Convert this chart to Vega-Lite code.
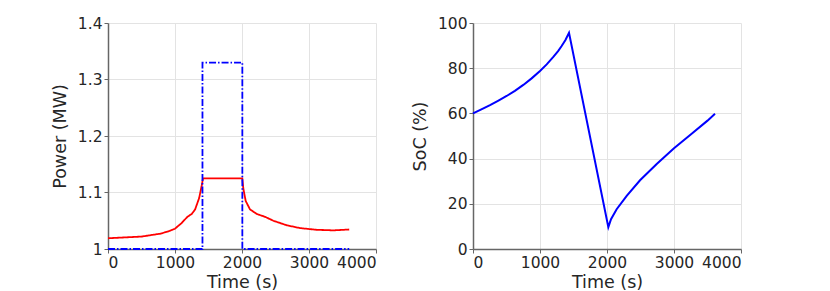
{
  "$schema": "https://vega.github.io/schema/vega-lite/v6.json",
  "background": "white",
  "padding": {"left": 51, "top": 16, "right": 5, "bottom": 0},
  "spacing": 34,
  "config": {
    "view": {"stroke": null},
    "font": "DejaVu Sans",
    "axis": {
      "labelFont": "DejaVu Sans",
      "labelFontSize": 15.5,
      "labelColor": "#262626",
      "labelOverlap": false,
      "titleFont": "DejaVu Sans",
      "titleFontSize": 17.5,
      "titleFontWeight": "normal",
      "titleColor": "#262626",
      "domainColor": "#666666",
      "domainWidth": 1.5,
      "tickColor": "#666666",
      "tickSize": 4,
      "tickWidth": 1,
      "labelPadding": 2,
      "gridColor": "#e3e3e3",
      "gridWidth": 1
    }
  },
  "datasets": {
    "power": [
      {"s": "red", "i": 1, "t": 0, "p": 1.019},
      {"s": "red", "i": 2, "t": 250, "p": 1.0205},
      {"s": "red", "i": 3, "t": 500, "p": 1.022},
      {"s": "red", "i": 4, "t": 775, "p": 1.027},
      {"s": "red", "i": 5, "t": 900, "p": 1.031},
      {"s": "red", "i": 6, "t": 1000, "p": 1.036},
      {"s": "red", "i": 7, "t": 1100, "p": 1.046},
      {"s": "red", "i": 8, "t": 1185, "p": 1.057},
      {"s": "red", "i": 9, "t": 1250, "p": 1.062},
      {"s": "red", "i": 10, "t": 1300, "p": 1.070},
      {"s": "red", "i": 11, "t": 1360, "p": 1.090},
      {"s": "red", "i": 12, "t": 1400, "p": 1.113},
      {"s": "red", "i": 13, "t": 1418, "p": 1.125},
      {"s": "red", "i": 14, "t": 2005, "p": 1.125},
      {"s": "red", "i": 15, "t": 2020, "p": 1.107},
      {"s": "red", "i": 16, "t": 2055, "p": 1.085},
      {"s": "red", "i": 17, "t": 2120, "p": 1.070},
      {"s": "red", "i": 18, "t": 2220, "p": 1.062},
      {"s": "red", "i": 19, "t": 2343, "p": 1.057},
      {"s": "red", "i": 20, "t": 2468, "p": 1.050},
      {"s": "red", "i": 21, "t": 2667, "p": 1.042},
      {"s": "red", "i": 22, "t": 2866, "p": 1.037},
      {"s": "red", "i": 23, "t": 3114, "p": 1.034},
      {"s": "red", "i": 24, "t": 3363, "p": 1.033},
      {"s": "red", "i": 25, "t": 3600, "p": 1.0345},
      {"s": "blue", "i": 1, "t": 0, "p": 1.0},
      {"s": "blue", "i": 2, "t": 1410, "p": 1.0},
      {"s": "blue", "i": 3, "t": 1410, "p": 1.33},
      {"s": "blue", "i": 4, "t": 2005, "p": 1.33},
      {"s": "blue", "i": 5, "t": 2005, "p": 1.0},
      {"s": "blue", "i": 6, "t": 3600, "p": 1.0}
    ],
    "soc": [
      {"t": 0, "soc": 60.0},
      {"t": 125, "soc": 61.8},
      {"t": 254, "soc": 63.7},
      {"t": 380, "soc": 65.7},
      {"t": 502, "soc": 67.7},
      {"t": 625, "soc": 70.0},
      {"t": 751, "soc": 72.6},
      {"t": 875, "soc": 75.5},
      {"t": 1000, "soc": 78.8},
      {"t": 1100, "soc": 81.7},
      {"t": 1199, "soc": 85.0},
      {"t": 1270, "soc": 87.6},
      {"t": 1323, "soc": 89.8},
      {"t": 1380, "soc": 92.5},
      {"t": 1433, "soc": 95.7},
      {"t": 2020, "soc": 9.7},
      {"t": 2060, "soc": 13.2},
      {"t": 2144, "soc": 17.6},
      {"t": 2294, "soc": 23.5},
      {"t": 2493, "soc": 30.4},
      {"t": 2742, "soc": 37.6},
      {"t": 3000, "soc": 44.6},
      {"t": 3250, "soc": 50.7},
      {"t": 3500, "soc": 56.8},
      {"t": 3612, "soc": 59.8}
    ]
  },
  "hconcat": [
    {
      "width": 268,
      "height": 226,
      "data": {"name": "power"},
      "mark": {"type": "line", "strokeWidth": 1.8, "clip": false},
      "encoding": {
        "x": {"field": "t", "type": "quantitative", "title": "Time (s)",
              "scale": {"domain": [0, 4000], "nice": false},
              "axis": {"values": [0, 1000, 2000, 3000, 4000], "format": "d", "titlePadding": 3}},
        "y": {"field": "p", "type": "quantitative", "title": "Power (MW)",
              "scale": {"domain": [1, 1.4], "nice": false, "zero": false},
              "axis": {"values": [1, 1.1, 1.2, 1.3, 1.4], "format": "~g", "titlePadding": 8}},
        "order": {"field": "i", "type": "quantitative"},
        "detail": {"field": "s"},
        "color": {"field": "s", "type": "nominal", "legend": null,
                  "scale": {"domain": ["red", "blue"], "range": ["#ff0000", "#0000ff"]}},
        "strokeDash": {"field": "s", "type": "nominal", "legend": null,
                  "scale": {"domain": ["red", "blue"], "range": [[1, 0], [7, 2, 1.5, 2]]}}
      }
    },
    {
      "width": 268,
      "height": 226,
      "data": {"name": "soc"},
      "mark": {"type": "line", "strokeWidth": 2, "color": "#0000ff"},
      "encoding": {
        "x": {"field": "t", "type": "quantitative", "title": "Time (s)",
              "scale": {"domain": [0, 4000], "nice": false},
              "axis": {"values": [0, 1000, 2000, 3000, 4000], "format": "d", "titlePadding": 3}},
        "y": {"field": "soc", "type": "quantitative", "title": "SoC (%)",
              "scale": {"domain": [0, 100], "nice": false},
              "axis": {"values": [0, 20, 40, 60, 80, 100], "titlePadding": 8}},
        "order": {"field": "t", "type": "quantitative"}
      }
    }
  ]
}
